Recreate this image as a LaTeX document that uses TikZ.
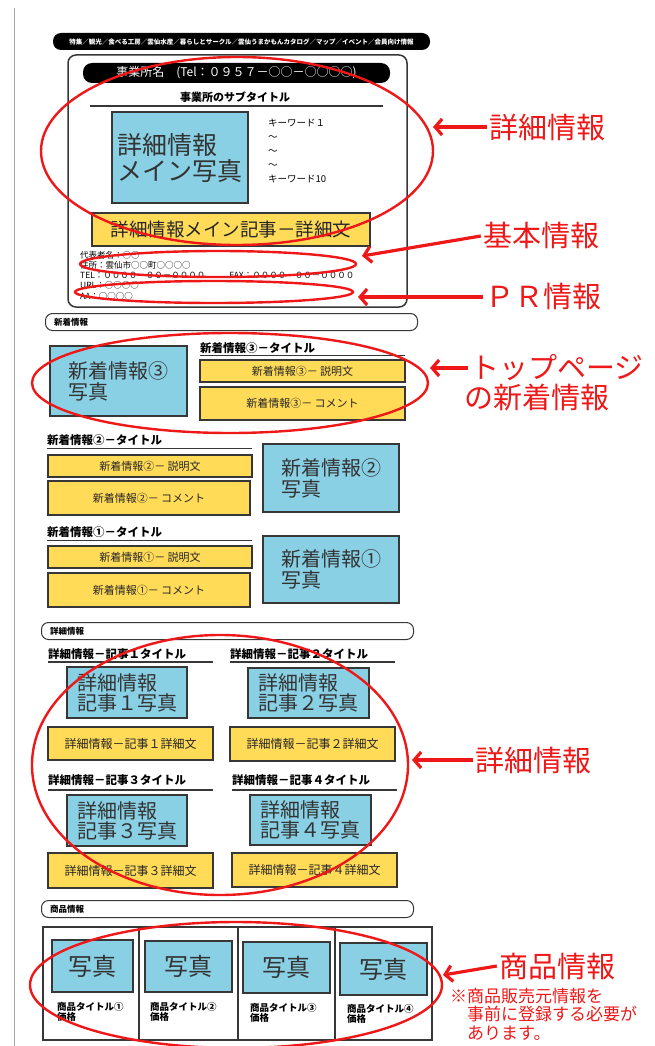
\documentclass[tikz,border=0pt]{standalone}
\usepackage{fontspec}
\setmainfont{Noto Sans CJK JP}
\usetikzlibrary{shapes.geometric}
\usetikzlibrary{positioning}
\usetikzlibrary{arrows.meta}
\definecolor{photoblue}{RGB}{137,208,228}
\definecolor{textyellow}{RGB}{255,219,88}
\definecolor{markred}{RGB}{238,24,24}
\definecolor{framegray}{RGB}{55,55,55}

\begin{document}
\begin{tikzpicture}
			[
				x = 1pt, y = -1pt,
				mysize/.style 2 args = {minimum width = #1, minimum height = #2},
				myphoto/.style = {draw = framegray, line width = 1.5pt, fill = photoblue, inner sep = 0pt, text = black!80, align = left},
				mytextbox/.style = {draw = framegray, line width = 1.8pt, fill = textyellow, inner sep = 0pt, text = black!85},
				mybar/.style = {draw = framegray, line width = 1pt, rounded corners = 7pt, mysize = {372pt}{17pt}, inner sep = 0pt},
				mysmall/.style = {inner sep = 0pt, font = \fontsize{8.5}{10}\selectfont\bfseries},
				mytitle/.style = {anchor = west, inner sep = 0pt, font = \fontsize{11.5}{13}\selectfont\bfseries},
				myrule/.style = {draw = framegray, double, double distance = 0.8pt, line width = 0.9pt},
				mycell/.style = {draw = framegray, line width = 1.8pt, inner sep = 0pt},
				mycaption/.style = {anchor = north west, align = left, inner sep = 0pt, font = \fontsize{9.5}{10.5}\selectfont\bfseries},
				myring/.style = {draw = markred, line width = 2.4pt, ellipse, inner sep = 0pt},
				mylabel/.style = {text = markred, font = \fontsize{29}{32}\selectfont, inner sep = 2pt},
				myarrow/.style = {draw = markred, line width = 3.2pt, -{Straight Barb[length = 7pt, width = 16pt]}}
			]
			\useasboundingbox (0,0) rectangle (655,1046);
			\draw [gray!70, line width = 0.8pt] (14,8) -- (14,1046);
			%
			% header and office block
			\node (navbar) [fill = black, rounded corners = 8pt, mysize = {377pt}{17pt}, inner sep = 0pt, text = white, font = \fontsize{6.5}{8}\selectfont\bfseries] at (241.5,41.5) {特集／観光／食べる工房／雲仙水産／暮らしとサークル／雲仙うまかもんカタログ／マップ／イベント／会員向け情報};
			\node (officebox) [draw = framegray, line width = 1.5pt, rounded corners = 8pt, mysize = {339pt}{252pt}] at (237.5,181) {};
			\node (officename) [fill = black, rounded corners = 9pt, mysize = {307pt}{20pt}, text = white, font = \fontsize{12}{14}\selectfont] at (236.5,73) {事業所名\quad (Tel：０９５７－○○－○○○○)};
			\node (subtitle) [inner sep = 0pt, font = \fontsize{11}{13}\selectfont\bfseries] at (235,97) {事業所のサブタイトル};
			\draw [line width = 2pt, framegray] (90,106) -- (383,106);
			%
			\node (mainphoto) [myphoto, mysize = {136pt}{91pt}, font = \fontsize{25}{26}\selectfont] at (180,157.5) {詳細情報\\メイン写真};
			\node (keywords) [anchor = west, align = left, inner sep = 0pt, font = \fontsize{9.5}{14}\selectfont] at (268,151) {キーワード１\\～\\～\\～\\キーワード10};
			\node (maintext) [mytextbox, mysize = {278pt}{33pt}, font = \fontsize{18.5}{20}\selectfont] at (231,229.5) {詳細情報メイン記事－詳細文};
			\node (basicinfo) [anchor = north west, align = left, inner sep = 0pt, font = \fontsize{8.5}{10.2}\selectfont] at (80,251) {代表者名：○○\\住所：雲仙市○○町○○○○\\TEL：００００－００－００００\hspace{24pt}FAX：００００－００－００００\\URL：○○○○\\AA：○○○○};
			%
			% new topics
			\node (newsbar) [mybar] at (231.5,322) {};
			\node (newsbarlabel) [mysmall, right = 9pt of newsbar.west] {新着情報};
			%
			\node (news3photo) [myphoto, mysize = {137pt}{70pt}, font = \fontsize{20}{21}\selectfont] at (118.5,381) {新着情報③\\写真};
			\node (news3title) [mytitle] at (200,348) {新着情報③－タイトル};
			\draw [myrule] (200,356) -- (405,356);
			\node (news3desc) [mytextbox, mysize = {205pt}{22pt}, font = \fontsize{11}{13}\selectfont] at (302.5,371) {新着情報③－ 説明文};
			\node (news3comment) [mytextbox, mysize = {205pt}{33pt}, font = \fontsize{11}{13}\selectfont] at (302.5,403.5) {新着情報③－ コメント};
			%
			\node (news2title) [mytitle] at (47,440) {新着情報②－タイトル};
			\draw [myrule] (47,449) -- (252,449);
			\node (news2desc) [mytextbox, mysize = {204pt}{22pt}, font = \fontsize{11}{13}\selectfont] at (150,466) {新着情報②－ 説明文};
			\node (news2comment) [mytextbox, mysize = {202pt}{34pt}, font = \fontsize{11}{13}\selectfont] at (149,498) {新着情報②－ コメント};
			\node (news2photo) [myphoto, mysize = {136pt}{68pt}, font = \fontsize{20}{21}\selectfont] at (331,478) {新着情報②\\写真};
			%
			\node (news1title) [mytitle] at (47,532) {新着情報①－タイトル};
			\draw [myrule] (47,541) -- (252,541);
			\node (news1desc) [mytextbox, mysize = {204pt}{22pt}, font = \fontsize{11}{13}\selectfont] at (150,557) {新着情報①－ 説明文};
			\node (news1comment) [mytextbox, mysize = {202pt}{34pt}, font = \fontsize{11}{13}\selectfont] at (149,590) {新着情報①－ コメント};
			\node (news1photo) [myphoto, mysize = {136pt}{67pt}, font = \fontsize{20}{21}\selectfont] at (331,569.5) {新着情報①\\写真};
			%
			% detail articles
			\node (detailbar) [mybar] at (227.5,631) {};
			\node (detailbarlabel) [mysmall, right = 9pt of detailbar.west] {詳細情報};
			%
			\node (art1title) [mytitle] at (48,654) {詳細情報－記事１タイトル};
			\draw [line width = 1.6pt, framegray] (48,662) -- (213,662);
			\node (art1photo) [myphoto, mysize = {120pt}{51pt}, font = \fontsize{20}{20}\selectfont] at (127,692.5) {詳細情報\\記事１写真};
			\node (art1text) [mytextbox, mysize = {165pt}{33pt}, font = \fontsize{12}{14}\selectfont] at (130.5,743.5) {詳細情報－記事１詳細文};
			%
			\node (art2title) [mytitle] at (230,654) {詳細情報－記事２タイトル};
			\draw [line width = 1.6pt, framegray] (230,662) -- (395,662);
			\node (art2photo) [myphoto, mysize = {121pt}{50pt}, font = \fontsize{20}{20}\selectfont] at (308.5,693) {詳細情報\\記事２写真};
			\node (art2text) [mytextbox, mysize = {165pt}{34pt}, font = \fontsize{12}{14}\selectfont] at (312.5,744) {詳細情報－記事２詳細文};
			%
			\node (art3title) [mytitle] at (48,780) {詳細情報－記事３タイトル};
			\draw [line width = 1.6pt, framegray] (48,790) -- (213,790);
			\node (art3photo) [myphoto, mysize = {120pt}{51pt}, font = \fontsize{20}{20}\selectfont] at (127,820.5) {詳細情報\\記事３写真};
			\node (art3text) [mytextbox, mysize = {165pt}{35pt}, font = \fontsize{12}{14}\selectfont] at (130.5,870.5) {詳細情報－記事３詳細文};
			%
			\node (art4title) [mytitle] at (232,780) {詳細情報－記事４タイトル};
			\draw [line width = 1.6pt, framegray] (232,790) -- (397,790);
			\node (art4photo) [myphoto, mysize = {121pt}{50pt}, font = \fontsize{20}{20}\selectfont] at (310.5,820) {詳細情報\\記事４写真};
			\node (art4text) [mytextbox, mysize = {165pt}{34pt}, font = \fontsize{12}{14}\selectfont] at (314.5,870) {詳細情報－記事４詳細文};
			%
			% goods
			\node (goodsbar) [mybar] at (227.5,909) {};
			\node (goodsbarlabel) [mysmall, right = 9pt of goodsbar.west] {商品情報};
			%
			\node (goodscell1) [mycell, mysize = {96pt}{113pt}] at (91,983.5) {};
			\node (goodscell2) [mycell, mysize = {99pt}{113pt}] at (188.5,983.5) {};
			\node (goodscell3) [mycell, mysize = {97pt}{113pt}] at (286.5,983.5) {};
			\node (goodscell4) [mycell, mysize = {97pt}{113pt}] at (383.5,983.5) {};
			\node (goodsphoto1) [myphoto, mysize = {81pt}{52pt}, font = \fontsize{24}{24}\selectfont] at (92.5,966) {写真};
			\node (goodsphoto2) [myphoto, mysize = {87pt}{51pt}, font = \fontsize{24}{24}\selectfont] at (188.5,966.5) {写真};
			\node (goodsphoto3) [myphoto, mysize = {87pt}{51pt}, font = \fontsize{24}{24}\selectfont] at (286.5,967.5) {写真};
			\node (goodsphoto4) [myphoto, mysize = {87pt}{52pt}, font = \fontsize{24}{24}\selectfont] at (383.5,969) {写真};
			\node (goodscap1) [mycaption] at (57,1002) {商品タイトル①\\価格};
			\node (goodscap2) [mycaption] at (150,1002) {商品タイトル②\\価格};
			\node (goodscap3) [mycaption] at (250,1003) {商品タイトル③\\価格};
			\node (goodscap4) [mycaption] at (347,1004) {商品タイトル④\\価格};
			%
			% red marks
			\node (mainring) [myring, mysize = {392pt}{188pt}] at (237,151) {};
			\node (basicring) [myring, mysize = {276pt}{26pt}] at (218,264) {};
			\node (prring) [myring, mysize = {278pt}{22pt}] at (214,292) {};
			\node (newsring) [myring, mysize = {396pt}{100pt}] at (230,383) {};
			\node (artring) [myring, mysize = {376pt}{260pt}] at (220,765) {};
			\node (goodsring) [myring, mysize = {412pt}{126pt}] at (236,985) {};
			%
			\coordinate (tipdetail) at (433,127);
			\coordinate (tipbasic) at (362,256);
			\coordinate (tippr) at (358,297);
			\coordinate (tipnews) at (430,368);
			\coordinate (tipart) at (412,760);
			\coordinate (tipgoods) at (443,975);
			%
			\node (lbldetail) [mylabel] at (547,127) {詳細情報};
			\node (lblbasic) [mylabel] at (541,236) {基本情報};
			\node (lblpr) [mylabel] at (543,297) {ＰＲ情報};
			\node (lblnews1) [mylabel, anchor = west] at (468,368) {トップページ};
			\node (lblnews2) [mylabel, below right = -1pt and -6pt of lblnews1.south west] {の新着情報};
			\node (lblart) [mylabel] at (533,760) {詳細情報};
			\node (lblgoods) [mylabel] at (557,966) {商品情報};
			\node (goodsnote) [anchor = north west, align = left, inner sep = 0pt, text = markred, font = \fontsize{17}{18.5}\selectfont] at (450,988) {※商品販売元情報を\\\phantom{※}事前に登録する必要が\\\phantom{※}あります。};
			%
			\draw [myarrow] (lbldetail.west) -- (tipdetail);
			\draw [myarrow] (lblbasic.west) -- (tipbasic);
			\draw [myarrow] (lblpr.west) -- (tippr);
			\draw [myarrow] (lblnews1.west) -- (tipnews);
			\draw [myarrow] (lblart.west) -- (tipart);
			\draw [myarrow] (lblgoods.west) -- (tipgoods);
			%
		\end{tikzpicture}
\end{document}
